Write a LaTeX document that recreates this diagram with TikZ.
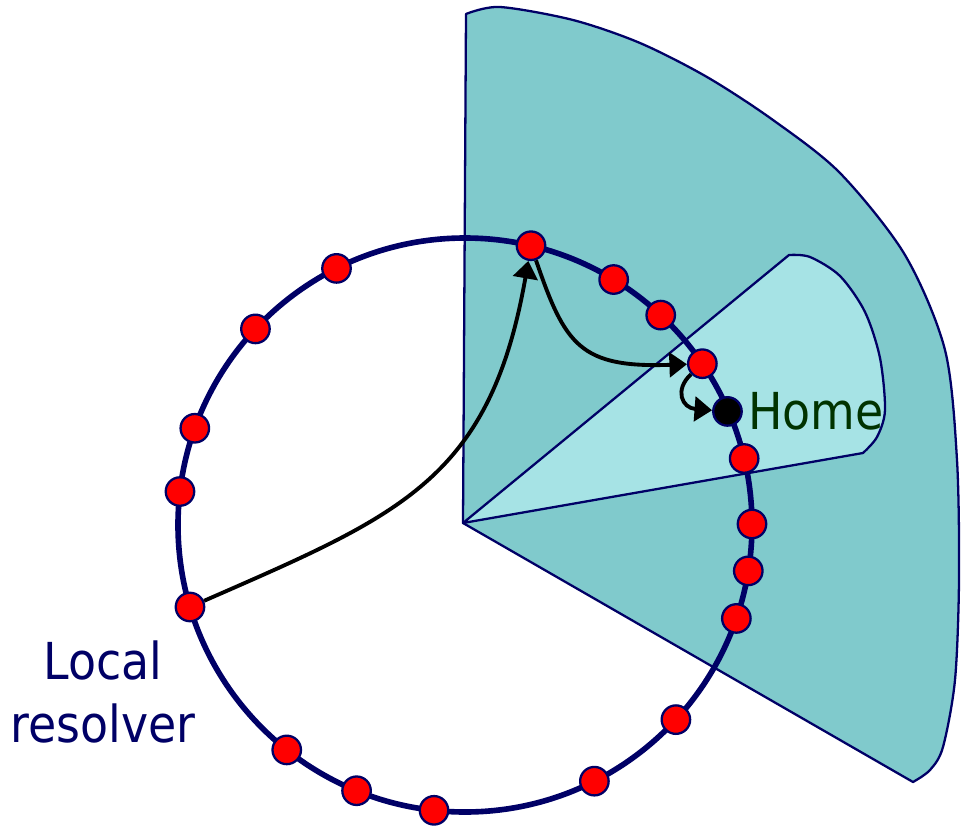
\documentclass[tikz,border=0pt]{standalone}
\usepackage{fontspec}
\setmainfont{DejaVu Sans Condensed}
\usetikzlibrary{arrows.meta}
\definecolor{ringblue}{RGB}{0,0,102}
\definecolor{zonedark}{RGB}{128,202,204}
\definecolor{zonelight}{RGB}{166,227,229}
\definecolor{homegreen}{RGB}{0,51,0}

\begin{document}
\begin{tikzpicture}[
    x=0.02cm, y=-0.02cm,
    zone/.style={draw=ringblue, line width=1.3pt, line join=round},
    ring/.style={draw=ringblue, line width=3.2pt},
    peer/.style={circle, draw=ringblue, line width=1.3pt, fill=red, minimum size=0.57cm, inner sep=0pt},
    homenode/.style={peer, fill=black},
    hop/.style={-{Triangle[length=10pt, width=14pt]}, line width=2.2pt},
    caption/.style={font=\fontsize{29}{36}\selectfont}
]
\useasboundingbox (0,0) rectangle (961,829);

% Zones around the home node
\filldraw[zone, fill=zonedark] (463,523) -- plot[smooth] coordinates {(466,14) (500,7) (573,20) (640,43) (707,77) (773,120) (840,173) (905,255) (945,350) (957,460) (959,580) (955,680) (943,747) (930,770) (913,782)} -- cycle;
\filldraw[zone, fill=zonelight] (463,523) -- plot[smooth] coordinates {(789,255) (810,257) (840,276) (865,312) (880,358) (885,410) (877,437) (863,453)} -- cycle;

% Ring
\draw[ring] (465,525) circle[radius=287];

% Peers on the ring
\foreach \a [count=\i] in {-76.7,-58.8,-47.0,-34.2,-13.4,-0.2,9.2,19.0,42.7,63.2,96.2,112.2,128.4,163.4,186.7,199.7,223.1,243.4}
  \path (465,525) ++(\a:287) node[peer] (n\i) {};
\path (465,525) ++(-23.4:286) node[homenode] (home) {};

% Lookup hops
\draw[hop] (n14) .. controls (400,515) and (490,480) .. (n1);
\draw[hop] (n1) .. controls (565,345) and (580,368) .. (n4);
\draw[hop] (n4) .. controls (674,390) and (682,408) .. (home);

% Labels
\node[caption, text=ringblue, align=center] (local) at (103,692) {Local\\resolver};
\node[caption, text=homegreen, anchor=base west, inner sep=0pt] (hometext) at (748,429) {Home};

\end{tikzpicture}
\end{document}
